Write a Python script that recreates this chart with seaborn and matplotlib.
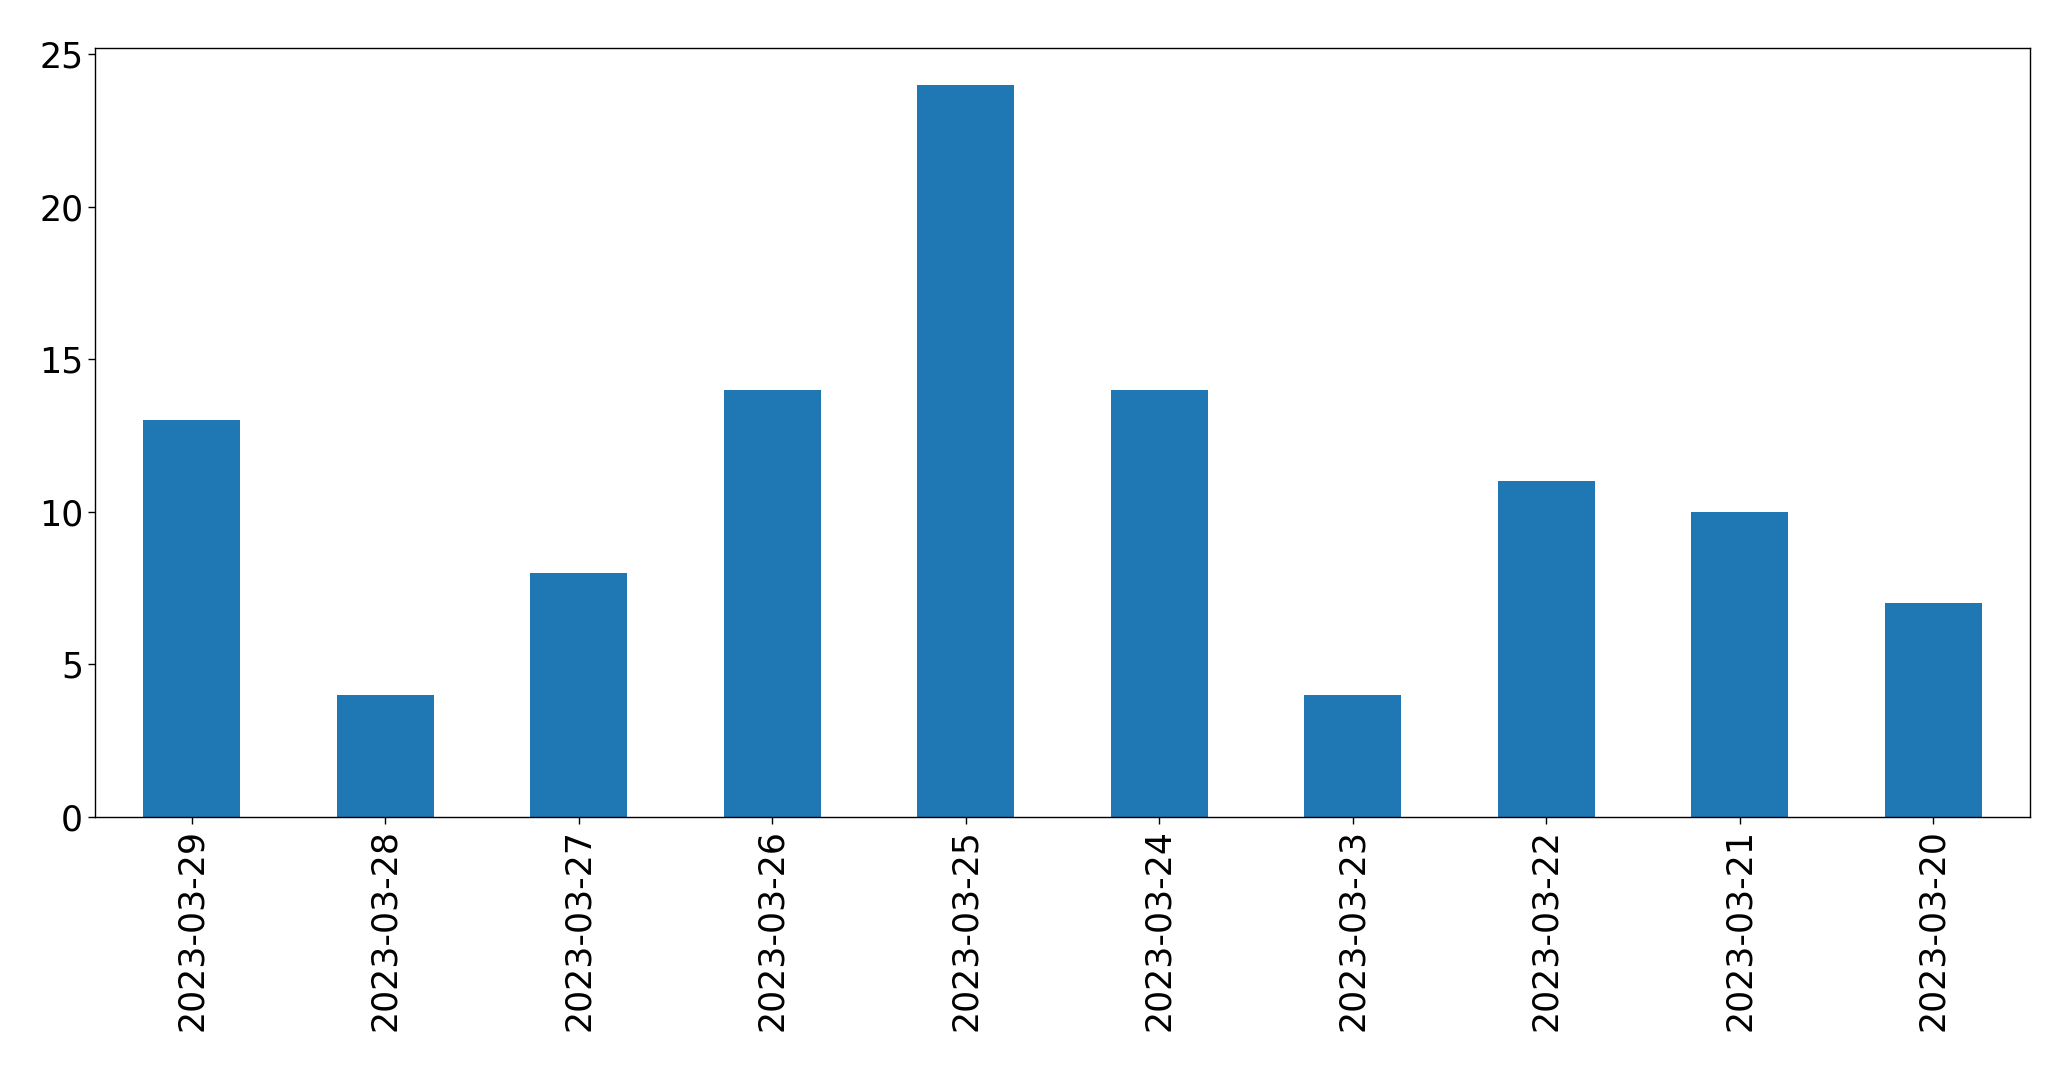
import seaborn as sns
import pandas as pd
import matplotlib.pyplot as plt

dates = ['2023-03-29', '2023-03-28', '2023-03-27', '2023-03-26', '2023-03-25',
         '2023-03-24', '2023-03-23', '2023-03-22', '2023-03-21', '2023-03-20']
counts = [13, 4, 8, 14, 24, 14, 4, 11, 10, 7]

df = pd.DataFrame({'date': dates, 'count': counts})

sns.set_style('white')
plt.rcParams['font.family'] = ['DejaVu Sans']

f = plt.figure(figsize=(20.71, 10.69), dpi=100)
ax = f.add_axes([95 / 2071, 1 - 817 / 1069, (2030 - 95) / 2071, (817 - 48) / 1069])
sns.barplot(data=df, x='date', y='count', color='#1f77b4', saturation=1, width=0.5,
            edgecolor='none', linewidth=0, ax=ax)

ax.set_xlim(-0.5, len(dates) - 0.5)
ax.set_ylim(0, 25.2)
ax.set_yticks([0, 5, 10, 15, 20, 25])
ax.set_xlabel('')
ax.set_ylabel('')
ax.tick_params(axis='both', labelsize=25, length=5, width=1, direction='out',
               bottom=True, left=True, colors='black')
ax.tick_params(axis='x', labelrotation=90)
for s in ax.spines.values():
    s.set_color('black')
    s.set_linewidth(1)

f.savefig('out.png', dpi=100)
